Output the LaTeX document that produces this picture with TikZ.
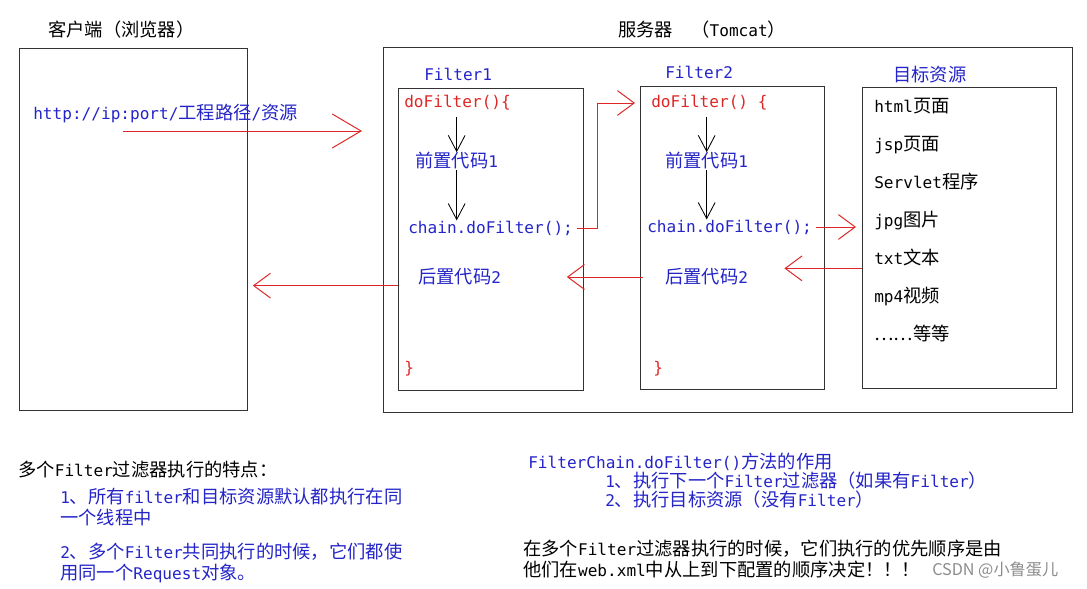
\documentclass[tikz,border=0pt]{standalone}
\usepackage{fontspec}
\setmainfont{Noto Sans CJK SC}
\newfontfamily\latn{DejaVu Sans Mono}[Scale=0.88]
\newcommand\ltn[1]{{\latn #1}}
\usepackage{xcolor}
\usetikzlibrary{arrows.meta, positioning}

\definecolor{codered}{RGB}{222,38,38}
\definecolor{codeblue}{RGB}{36,36,200}

\begin{document}
\begin{tikzpicture}[
  x=0.025cm, y=-0.025cm,
  txt/.style={inner sep=0pt, anchor=west, font=\fontsize{13}{15}\selectfont},
  redtxt/.style={txt, text=codered},
  bluetxt/.style={txt, text=codeblue},
  code/.style={txt, font=\fontsize{13}{15}\selectfont\latn},
  item/.style={txt, text height=9pt, text depth=2pt},
  box/.style={draw=black!80, line width=0.7pt, anchor=north west, inner sep=0pt},
  reqarr/.style={-{Straight Barb[length=0.72cm, width=0.85cm]}, codered, line width=0.7pt},
  redarr/.style={-{Straight Barb[length=0.42cm, width=0.62cm]}, codered, line width=0.7pt},
  blackarr/.style={-{Straight Barb[length=0.4cm, width=0.42cm]}, black, line width=0.6pt},
]
\useasboundingbox (0,0) rectangle (1087,589);

% client side
\node[txt] (clienttitle) at (48,30) {客户端（浏览器）};
\node[box, minimum width=5.7cm, minimum height=9.05cm] (client) at (19,48) {};
\node[bluetxt] (url) at (33,113) {\ltn{http://ip:port/}工程路径\ltn{/}资源};
\coordinate (req) at (123,131);
\coordinate (reqend) at (362,131);

% server side
\node[txt] (servertitle) at (618,30) {服务器\quad（\ltn{Tomcat}）};
\node[box, minimum width=17.225cm, minimum height=9.125cm] (server) at (383,47) {};

% Filter1
\node[code, text=codeblue] (f1label) at (424,74) {Filter1};
\node[box, minimum width=4.625cm, minimum height=7.55cm] (f1) at (398,88) {};
\node[code, text=codered] (do1) at (404,103) {doFilter()\{};
\node[bluetxt] (pre1) at (415,161) {前置代码\ltn{1}};
\node[code, text=codeblue] (chain1) at (408,228) {chain.doFilter();};
\node[bluetxt] (post1) at (418,277) {后置代码\ltn{2}};
\node[code, text=codered] (end1) at (404,369) {\}};

% Filter2
\node[code, text=codeblue] (f2label) at (665,72) {Filter2};
\node[box, minimum width=4.6cm, minimum height=7.575cm] (f2) at (640,86) {};
\node[code, text=codered] (do2) at (651,103) {doFilter() \{};
\node[bluetxt] (pre2) at (665,161) {前置代码\ltn{1}};
\node[code, text=codeblue] (chain2) at (647,227) {chain.doFilter();};
\node[bluetxt] (post2) at (665,277) {后置代码\ltn{2}};
\node[code, text=codered] (end2) at (653,369) {\}};

% target resources
\node[bluetxt] (targetlabel) at (893,75) {目标资源};
\node[box, minimum width=4.85cm, minimum height=7.525cm] (target) at (862,87) {};
\node[item] (html) at (874,108) {\ltn{html}页面};
\node[item, below=0.95cm of html.west, anchor=west] (jsp) {\ltn{jsp}页面};
\node[item, below=0.95cm of jsp.west, anchor=west] (servlet) {\ltn{Servlet}程序};
\node[item, below=0.95cm of servlet.west, anchor=west] (jpg) {\ltn{jpg}图片};
\node[item, below=0.95cm of jpg.west, anchor=west] (txtfile) {\ltn{txt}文本};
\node[item, below=0.95cm of txtfile.west, anchor=west] (mp4) {\ltn{mp4}视频};
\node[item, below=0.95cm of mp4.west, anchor=west] (etc) {……等等};

% notes
\node[txt] (notetitle) at (18,470) {多个\ltn{Filter}过滤器执行的特点：};
\node[bluetxt, align=left] (note1) at (60,507) {\ltn{1}、所有\ltn{filter}和目标资源默认都执行在同\\一个线程中};
\node[bluetxt, align=left] (note2) at (60,563) {\ltn{2}、多个\ltn{Filter}共同执行的时候，它们都使\\用同一个\ltn{Request}对象。};
\node[bluetxt] (chaintitle) at (528,462) {\ltn{FilterChain.doFilter()}方法的作用};
\node[bluetxt, align=left, font=\fontsize{13}{13.5}\selectfont] (chainuse) at (605,490)
  {\ltn{1}、执行下一个\ltn{Filter}过滤器（如果有\ltn{Filter}）\\\ltn{2}、执行目标资源（没有\ltn{Filter}）};
\node[txt, align=left] (order) at (523,559) {在多个\ltn{Filter}过滤器执行的时候，它们执行的优先顺序是由\\他们在\ltn{web.xml}中从上到下配置的顺序决定！！！};
\node[txt, text=black!45, font=\fontsize{11.5}{14}\selectfont] (mark) at (932,570) {CSDN @小鲁蛋儿};

% request path
\draw[reqarr] (req) -- (reqend);
\draw[blackarr] (pre1.north |- do1.south) ++(0,6) -- (pre1.north);
\draw[blackarr] (pre1.south) -- (pre1.south |- chain1.north);
\draw[redarr] ([xshift=0.1cm]chain1.east) -- ++(20,0) |- ([xshift=-0.4cm]do2.west);
\draw[blackarr] (pre2.north |- do2.south) ++(0,6) -- (pre2.north);
\draw[blackarr] (pre2.south) -- (pre2.south |- chain2.north);
\draw[redarr] ([xshift=0.1cm]chain2.east) -- ([xshift=-0.15cm]target.west |- chain2.east);

% response path
\draw[redarr] (target.west |- post2.north) -- ([xshift=0.9cm]post2.north east);
\draw[redarr] ([xshift=-0.55cm]post2.west) -- ([xshift=-0.43cm]f1.east |- post2.west);
\draw[redarr] (f1.west |- post1.south) -- ([xshift=0.12cm]client.east |- post1.south);

\end{tikzpicture}
\end{document}
